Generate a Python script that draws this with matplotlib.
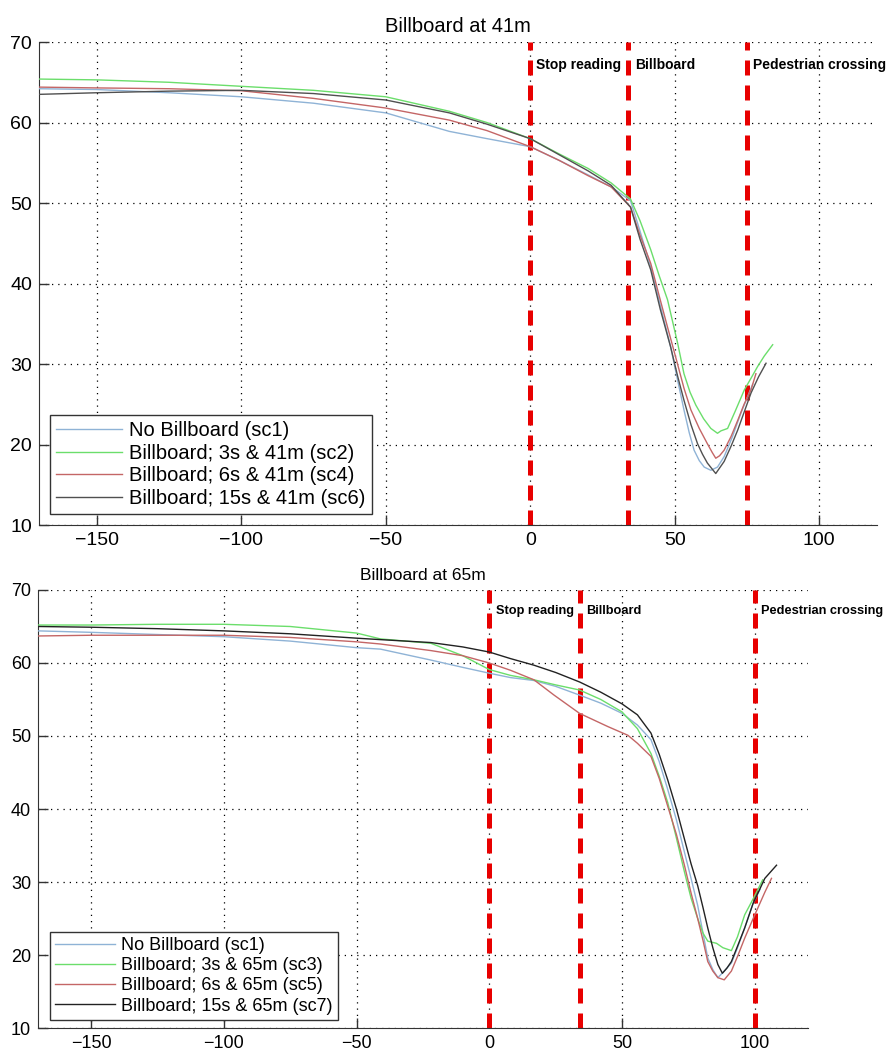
import matplotlib
matplotlib.use("Agg")
import matplotlib.pyplot as plt

plt.rcParams['font.family'] = ['Liberation Sans', 'DejaVu Sans']

# ---- top panel: billboard at 41 m ----
top_title = 'Billboard at 41m'
top_labels = ['No Billboard (sc1)', 'Billboard; 3s & 41m (sc2)',
              'Billboard; 6s & 41m (sc4)', 'Billboard; 15s & 41m (sc6)']

top_sc1_x = [-170, -150, -125, -100, -75, -50, -28, -15, 0, 10, 20, 28, 34.7, 38, 41.7, 45, 48.6,
             51, 53.2, 55, 56.7, 58.5, 60.2, 62.5, 64.8, 67.1, 70, 73, 77]
top_sc1_y = [64.2, 64.1, 63.7, 63.2, 62.4, 61.2, 58.9, 58.0, 57.0, 55.3, 53.5, 52.0, 50.3, 46.5, 42.1, 37.3, 32.1,
             28.0, 24.3, 21.5, 19.3, 18.0, 17.2, 16.8, 17.2, 18.5, 21.0, 24.0, 27.5]

top_sc2_x = [-170, -150, -125, -100, -75, -50, -28, -15, 0, 10, 20, 28, 34.7, 38, 41.7, 44.6, 47.5, 51,
             53.2, 55.3, 57.3, 60, 62.5, 64.8, 66, 68.3, 71, 74.1, 76.5, 78.7, 81, 83.9]
top_sc2_y = [65.4, 65.3, 65.0, 64.5, 64.0, 63.2, 61.4, 60.0, 58.0, 56.1, 54.3, 52.5, 50.5, 47.8, 44.2, 41.0, 38.0, 32.6,
             28.8, 26.5, 24.9, 23.2, 22.0, 21.4, 21.7, 22.0, 24.2, 26.8, 28.3, 29.7, 31.0, 32.4]

top_sc4_x = [-170, -150, -125, -100, -75, -50, -28, -15, 0, 10, 20, 28, 34.7, 38, 41.7, 44.6, 47.5, 50.9,
             53.2, 55.6, 58.5, 61.3, 63, 64.2, 65.5, 67.1, 69.5, 71.8, 74, 76.4, 78.1]
top_sc4_y = [64.4, 64.3, 64.2, 63.95, 63.0, 61.8, 60.3, 59.0, 57.0, 55.3, 53.4, 52.0, 49.5, 46.0, 42.5, 38.5, 34.6, 30.1,
             27.0, 24.3, 22.0, 20.1, 19.0, 18.3, 18.6, 19.3, 21.0, 23.0, 25.0, 26.8, 28.8]

top_sc6_x = [-170, -150, -125, -100, -75, -50, -28, -15, 0, 10, 20, 28, 34.7, 38, 41.7, 45, 48.6, 51,
             53.2, 55.6, 57.9, 59.6, 61.3, 64.2, 67.1, 69.5, 71.8, 74, 76.4, 79, 81.6]
top_sc6_y = [63.5, 63.7, 63.9, 64.0, 63.6, 62.8, 61.2, 59.8, 58.0, 56.0, 54.0, 52.2, 49.5, 45.5, 41.7, 36.8, 32.1, 28.5,
             25.5, 22.5, 20.1, 18.8, 17.7, 16.4, 17.9, 19.8, 21.8, 24.0, 26.4, 28.4, 30.1]

top_marks = [0, 34, 75]
top_mark_labels = ['Stop reading', 'Billboard', 'Pedestrian crossing']

# ---- bottom panel: billboard at 65 m ----
bot_title = 'Billboard at 65m'
bot_labels = ['No Billboard (sc1)', 'Billboard; 3s & 65m (sc3)',
              'Billboard; 6s & 65m (sc5)', 'Billboard; 15s & 65m (sc7)']

bot_sc1_x = [-170, -150, -125, -100, -75, -50, -41, -22, -10, 0, 8, 16.8, 25, 34, 42, 50, 55.8, 60.9, 64,
             67.2, 70.5, 73.5, 76, 78.5, 80.5, 82.3, 84.2, 86.1, 88, 91.2, 93.5, 96.2, 99.4, 102]
bot_sc1_y = [64.4, 64.2, 63.9, 63.6, 63.0, 62.1, 61.9, 60.4, 59.4, 58.6, 58.0, 57.6, 56.8, 55.6, 54.5, 53.1, 51.5, 49.5, 46.5,
             42.7, 38.5, 34.1, 30.5, 26.8, 23.0, 19.6, 18.0, 16.9, 17.6, 18.9, 21.0, 23.7, 27.1, 29.0]

bot_sc3_x = [-170, -150, -125, -100, -75, -50, -41, -22, -10, 0, 8, 16.8, 25, 34, 42, 50, 55.8, 60.9, 64,
             67.2, 70.5, 73.5, 76, 78.5, 80.5, 82.3, 85.6, 88, 91.2, 93.5, 96.2, 99.4, 103]
bot_sc3_y = [65.2, 65.2, 65.3, 65.3, 65.0, 64.1, 63.3, 62.7, 61.0, 59.1, 58.3, 57.7, 57.0, 56.3, 55.0, 53.3, 51.0, 47.6, 44.5,
             40.9, 36.0, 31.4, 27.8, 25.0, 23.0, 21.9, 21.6, 21.0, 20.6, 22.5, 25.5, 27.7, 30.3]

bot_sc5_x = [-170, -150, -125, -100, -75, -50, -41, -22, -10, 0, 8, 16.8, 24.4, 34, 44.6, 52.2, 55.8, 60.9, 64,
             67.2, 70.5, 73.5, 76, 78.5, 80.5, 82.3, 84.2, 86.1, 88.5, 91.2, 93.5, 96.2, 99.4, 103.8, 106.3]
bot_sc5_y = [63.7, 63.8, 63.8, 63.8, 63.5, 62.9, 62.6, 61.7, 61.0, 60.0, 59.0, 57.7, 55.6, 53.1, 51.3, 50.1, 49.0, 47.2, 44.2,
             40.4, 36.5, 32.3, 28.5, 25.0, 22.0, 19.1, 17.8, 16.9, 16.6, 17.8, 19.8, 22.3, 25.0, 28.6, 30.5]

bot_sc7_x = [-170, -150, -125, -100, -75, -50, -41, -22, -10, 0, 8, 16.8, 25, 34, 42, 50, 55.8, 60.9, 64,
             67.2, 70.5, 73.5, 76, 78.5, 80.5, 82.3, 84.2, 86.1, 87.8, 89.5, 91.2, 93.5, 96.2, 99.4, 103.8, 108.2]
bot_sc7_y = [65.0, 64.9, 64.7, 64.4, 64.0, 63.4, 63.2, 62.8, 62.2, 61.5, 60.6, 59.7, 58.7, 57.4, 56.0, 54.4, 52.9, 50.4, 47.5,
             44.0, 40.0, 35.9, 32.5, 29.5, 26.5, 23.7, 21.0, 18.7, 17.5, 18.2, 19.1, 21.2, 23.7, 27.1, 30.5, 32.3]

bot_marks = [0, 34, 100]
bot_mark_labels = ['Stop reading', 'Billboard', 'Pedestrian crossing']

x_ticks = [-150, -100, -50, 0, 50, 100]
y_ticks = [10, 20, 30, 40, 50, 60, 70]

top_colors = ['#8fb3d6', '#6bde6b', '#c46666', '#505050']
bot_colors = ['#8fb3d6', '#6bde6b', '#c46666', '#222222']


def panel(ax, series, labels, colors, marks, mark_labels, title, fs, title_fs,
          leg_anchor, leg_fs, note_fs):
    for (xs, ys), lab, c in zip(series, labels, colors):
        ax.plot(xs, ys, color=c, lw=1.0, label=lab, zorder=3)
    for m, t in zip(marks, mark_labels):
        ax.axvline(m, color='#e80000', lw=3.6, dashes=(3.0, 2.0), zorder=2)
        ax.annotate(t, (m, 67.1), xytext=(4.5, 0), textcoords='offset points',
                    fontsize=note_fs, fontweight='bold', ha='left', va='center', zorder=4)
    ax.set_xlim(-170, 120)
    ax.set_ylim(10, 70)
    ax.set_xticks(x_ticks)
    ax.set_yticks(y_ticks)
    ax.grid(True, color='black', lw=0.9, linestyle=(0, (1, 4)))
    ax.set_axisbelow(True)
    for s in ['top', 'right']:
        ax.spines[s].set_visible(False)
    for s in ['left', 'bottom']:
        ax.spines[s].set_color('#333333')
    ax.tick_params(direction='in', length=7, width=1, color='#333333', labelsize=fs, pad=5)
    ax.set_title(title, fontsize=title_fs, pad=7)
    leg = ax.legend(loc='lower left', bbox_to_anchor=leg_anchor, borderaxespad=0, fontsize=leg_fs,
                    frameon=True, fancybox=False, framealpha=1, edgecolor='#333333',
                    handlelength=3.3, handletextpad=0.35, labelspacing=0.18, borderpad=0.3)
    leg.get_frame().set_linewidth(1.0)


fig = plt.figure(figsize=(8.9, 10.56), dpi=100)
ax1 = fig.add_axes([0.0438, 0.5028, 0.9416, 0.4574])
ax2 = fig.add_axes([0.0427, 0.0265, 0.865, 0.4148])

panel(ax1,
      [(top_sc1_x, top_sc1_y), (top_sc2_x, top_sc2_y), (top_sc4_x, top_sc4_y), (top_sc6_x, top_sc6_y)],
      top_labels, top_colors, top_marks, top_mark_labels, top_title, 14, 14.5, (0.013, 0.023), 14.5, 10)
panel(ax2,
      [(bot_sc1_x, bot_sc1_y), (bot_sc3_x, bot_sc3_y), (bot_sc5_x, bot_sc5_y), (bot_sc7_x, bot_sc7_y)],
      bot_labels, bot_colors, bot_marks, bot_mark_labels, bot_title, 13, 12.5, (0.0156, 0.018), 13, 9.2)

fig.savefig('out.png', dpi=100)
